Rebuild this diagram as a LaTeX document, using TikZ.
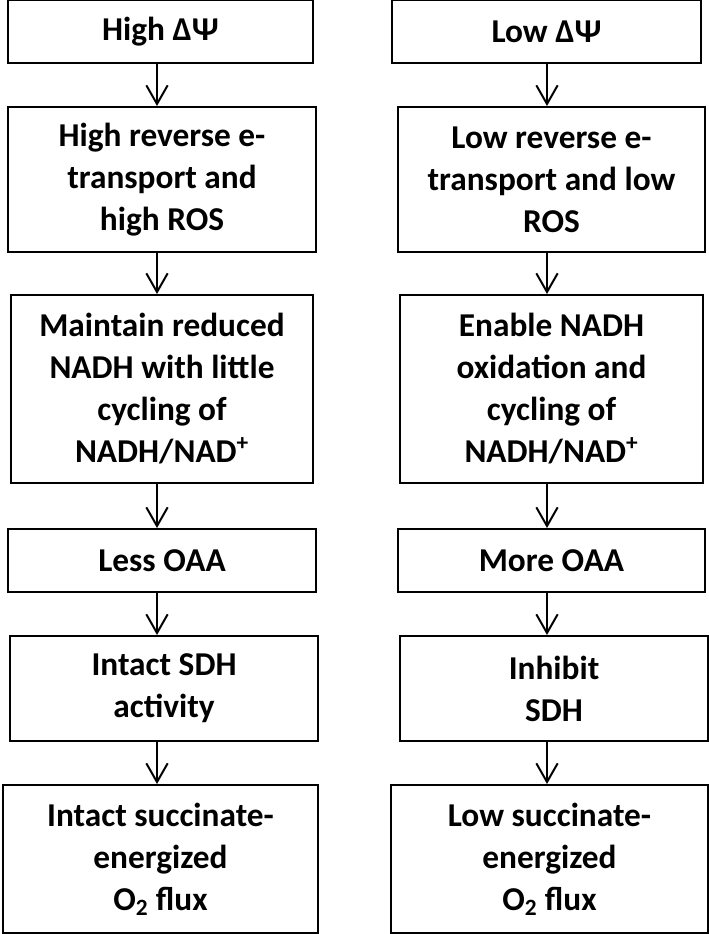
\documentclass[tikz,border=0pt]{standalone}
\usepackage{fontspec}
\setmainfont{Carlito}
\usetikzlibrary{arrows.meta}

\tikzset{
  flowbox/.style={draw, line width=1.5, inner sep=0pt, align=center,
    font=\bfseries\fontsize{25}{31.5}\selectfont},
  flowarrow/.style={line width=1.5, -{Straight Barb[length=14pt,width=16pt,line width=1.5pt]}}
}

\begin{document}
\begin{tikzpicture}[x=0.75pt,y=0.75pt,yscale=-1]
\useasboundingbox (0,0) rectangle (709,934);

% Left column: high membrane potential
\node [flowbox, minimum width=228.75pt, minimum height=47.25pt] (highpsi) at (160.5,32) {High ΔΨ};
\node [flowbox, minimum width=231pt, minimum height=108.75pt] (highros) at (162,179.5) {High reverse e-\\transport and\\high ROS};
\node [flowbox, minimum width=226.5pt, minimum height=141pt] (keepnadh) at (162,389) {Maintain reduced\\NADH with little\\cycling of\\NADH/NAD\textsuperscript{+}};
\node [flowbox, minimum width=231pt, minimum height=47.25pt] (lessoaa) at (162,560.5) {Less OAA};
\node [flowbox, minimum width=231pt, minimum height=78.75pt] (sdhon) at (164,688.5) {Intact SDH\\activity};
\node [flowbox, minimum width=236.25pt, minimum height=111pt] (fluxon) at (160.5,859) {Intact succinate-\\energized\\O\textsubscript{2} flux};

% Right column: low membrane potential
\node [flowbox, minimum width=231.75pt, minimum height=47.25pt] (lowpsi) at (546.5,32) {Low ΔΨ};
\node [flowbox, minimum width=230.25pt, minimum height=108.75pt] (lowros) at (551.5,179.5) {Low reverse e-\\transport and low\\ROS};
\node [flowbox, minimum width=227.25pt, minimum height=141pt] (oxnadh) at (551.5,389) {Enable NADH\\oxidation and\\cycling of\\NADH/NAD\textsuperscript{+}};
\node [flowbox, minimum width=230.25pt, minimum height=47.25pt] (moreoaa) at (551.5,560.5) {More OAA};
\node [flowbox, minimum width=231pt, minimum height=78.75pt] (sdhoff) at (554,688.5) {Inhibit\\SDH};
\node [flowbox, minimum width=237.75pt, minimum height=111pt] (fluxoff) at (549.5,859) {Low succinate-\\energized\\O\textsubscript{2} flux};

% arrow lines
\coordinate (lcol) at (157,0);
\coordinate (rcol) at (547,0);
\foreach \a/\b in {highpsi/highros, highros/keepnadh, keepnadh/lessoaa, lessoaa/sdhon, sdhon/fluxon}
  \draw [flowarrow] (\a.south -| lcol) -- (\b.north -| lcol);
\foreach \a/\b in {lowpsi/lowros, lowros/oxnadh, oxnadh/moreoaa, moreoaa/sdhoff, sdhoff/fluxoff}
  \draw [flowarrow] (\a.south -| rcol) -- (\b.north -| rcol);

\end{tikzpicture}
\end{document}
